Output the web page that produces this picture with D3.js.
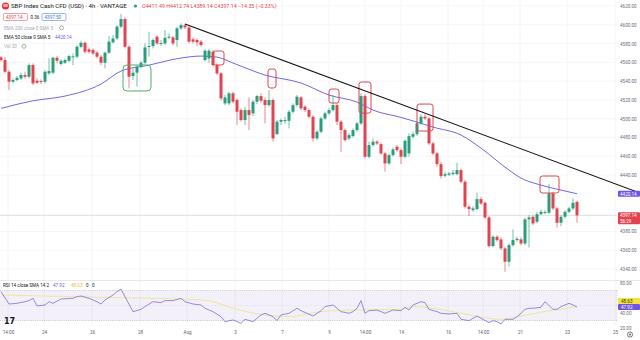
<!DOCTYPE html>
<html><head><meta charset="utf-8">
<script src="https://cdn.jsdelivr.net/npm/d3@7"></script>
<style>body{margin:0;background:#fff}svg{display:block;font-family:Roboto,"Noto Sans",sans-serif}</style>
</head><body><svg id="c" width="640" height="340"></svg>
<script>
// ---- data (4h candles, index 0..144) ----
const opens=[4565.3,4562.5,4550.0,4539.4,4541.2,4542.9,4546.5,4544.7,4557.1,4540.4,4540.1,4539.4,4548.3,4549.0,4564.9,4558.2,4559.6,4561.7,4566.0,4566.0,4576.6,4580.9,4573.8,4573.1,4570.3,4566.0,4559.6,4570.3,4581.3,4585.5,4598.0,4606.1,4576.6,4545.4,4549.0,4555.4,4559.6,4576.6,4577.4,4587.3,4580.2,4580.2,4586.6,4586.6,4583.8,4596.2,4599.4,4597.2,4584.5,4583.8,4582.0,4562.5,4564.2,4571.3,4557.1,4548.3,4516.3,4516.3,4527.0,4519.9,4509.2,4498.6,4509.2,4505.7,4518.1,4524.1,4519.9,4514.5,4519.9,4483.6,4496.8,4497.8,4497.8,4507.4,4514.5,4522.7,4512.8,4509.2,4502.1,4479.0,4486.1,4500.3,4505.7,4509.2,4514.5,4496.8,4487.9,4479.0,4481.5,4487.9,4495.0,4524.1,4459.5,4471.9,4475.5,4473.0,4463.1,4452.4,4461.3,4470.2,4466.6,4459.5,4463.1,4480.8,4483.6,4495.0,4502.1,4500.3,4473.7,4463.1,4451.7,4439.3,4440.3,4441.0,4441.0,4445.3,4432.9,4406.3,4402.7,4403.8,4414.4,4410.5,4394.9,4364.4,4374.3,4371.5,4361.9,4347.7,4365.4,4370.8,4371.5,4367.2,4392.8,4395.6,4390.3,4398.4,4399.9,4399.9,4420.5,4404.5,4389.2,4395.6,4400.9,4404.5,4411.49];
const highs=[4566.7,4566.0,4551.8,4542.9,4545.4,4549.0,4550.0,4558.9,4558.9,4542.9,4541.9,4551.8,4564.2,4566.0,4566.7,4563.2,4564.2,4568.1,4569.5,4578.4,4583.0,4582.0,4575.9,4574.9,4572.4,4567.8,4571.3,4588.0,4589.1,4599.7,4611.4,4607.9,4578.4,4553.6,4557.1,4561.7,4580.2,4592.6,4585.5,4589.1,4583.8,4594.4,4590.9,4588.0,4598.0,4601.5,4600.8,4598.7,4586.6,4585.5,4583.8,4573.8,4574.5,4573.1,4558.9,4550.0,4525.2,4528.7,4528.7,4521.6,4511.0,4512.8,4522.7,4519.9,4525.2,4527.0,4522.7,4530.5,4521.6,4498.6,4500.3,4502.1,4509.2,4516.3,4525.2,4524.1,4514.5,4511.0,4503.9,4487.9,4502.1,4507.4,4511.0,4525.2,4516.3,4498.6,4489.7,4484.4,4489.7,4496.8,4527.0,4526.2,4475.5,4479.0,4477.3,4474.4,4464.8,4463.1,4469.4,4471.9,4468.4,4478.0,4484.4,4486.1,4496.8,4504.9,4504.9,4502.1,4475.5,4464.8,4454.2,4443.5,4443.5,4445.3,4453.1,4447.1,4434.7,4408.0,4407.0,4421.2,4416.9,4411.6,4396.3,4376.1,4376.1,4373.6,4363.7,4367.2,4382.1,4374.3,4373.6,4394.9,4397.4,4397.4,4400.9,4403.4,4402.7,4430.4,4422.2,4406.3,4397.4,4402.7,4406.3,4415.1,4412.74];
const lows=[4560.7,4548.3,4530.5,4537.6,4540.1,4541.2,4542.9,4542.9,4535.8,4536.9,4536.9,4537.6,4546.5,4547.5,4558.9,4556.8,4558.2,4560.3,4557.1,4564.2,4574.9,4569.5,4569.5,4567.8,4564.2,4557.1,4553.6,4568.8,4580.2,4583.8,4596.2,4574.9,4532.3,4541.2,4534.1,4553.6,4558.2,4566.0,4574.9,4578.4,4577.4,4578.4,4584.5,4578.4,4576.6,4594.4,4595.1,4580.2,4580.2,4577.4,4576.6,4560.7,4559.6,4555.4,4546.5,4519.1,4514.5,4514.5,4516.3,4493.2,4496.8,4493.2,4487.9,4502.8,4515.6,4517.0,4495.0,4512.8,4475.5,4482.6,4493.2,4495.0,4489.7,4505.7,4512.8,4509.2,4507.4,4500.3,4475.5,4477.3,4484.4,4498.6,4503.9,4507.4,4493.2,4464.8,4475.5,4477.3,4480.1,4486.1,4493.2,4457.7,4457.7,4470.2,4471.9,4461.3,4443.5,4450.6,4459.5,4464.8,4451.7,4457.7,4459.5,4479.0,4481.5,4493.2,4498.6,4471.9,4461.3,4448.9,4436.4,4437.5,4438.9,4439.6,4439.6,4431.1,4404.5,4396.3,4400.9,4402.7,4408.0,4392.8,4362.9,4362.9,4369.0,4360.1,4337.0,4342.4,4363.7,4369.0,4365.4,4365.4,4362.9,4386.7,4388.5,4397.4,4398.4,4398.4,4402.7,4384.2,4385.7,4393.8,4399.2,4402.7,4389.14];
const closes=[4562.5,4550.0,4539.4,4541.2,4543.6,4546.5,4544.7,4557.1,4537.6,4538.3,4539.0,4550.0,4550.7,4564.9,4561.7,4561.7,4562.5,4566.7,4566.4,4576.6,4580.9,4571.3,4571.3,4569.5,4566.0,4559.6,4570.3,4582.0,4585.5,4598.0,4606.1,4576.6,4544.7,4549.0,4555.4,4559.6,4575.9,4577.4,4583.8,4580.2,4580.6,4586.2,4587.3,4580.2,4596.2,4599.7,4597.2,4582.0,4582.0,4581.3,4578.4,4572.4,4572.4,4557.1,4548.3,4521.6,4522.7,4527.0,4518.1,4507.4,4498.6,4509.2,4503.9,4518.1,4524.1,4519.1,4514.5,4519.9,4479.0,4496.8,4498.6,4498.6,4507.4,4514.5,4523.4,4511.0,4509.2,4502.1,4479.0,4486.1,4500.3,4505.7,4509.2,4514.5,4496.8,4487.9,4477.3,4482.6,4487.9,4495.0,4524.1,4459.5,4471.9,4475.5,4473.7,4463.1,4452.4,4461.3,4467.3,4466.6,4459.5,4476.5,4481.5,4483.6,4495.0,4502.1,4500.3,4473.7,4463.1,4451.7,4438.9,4441.0,4441.7,4442.5,4445.3,4432.9,4406.3,4403.8,4404.5,4414.4,4409.8,4394.9,4364.4,4374.3,4370.8,4361.9,4347.7,4365.4,4370.8,4372.2,4367.2,4392.8,4394.9,4388.5,4398.4,4400.9,4400.6,4420.5,4404.5,4389.2,4395.6,4400.9,4404.5,4410.5,4397.14];

// EMA 50 read at candle indices
const emaIdx=[0,8,16,25,30,37,45,50,54,58,66,75,82,89,93,100,104,108,115,120,126,130,135,140,144];
const emaVal=[4511.0,4519.1,4524.1,4536.9,4550.7,4557.1,4564.6,4566.7,4565.6,4559.3,4546.5,4538.0,4525.2,4517.7,4509.2,4501.4,4496.4,4491.1,4482.6,4468.7,4448.5,4436.8,4429.3,4424.0,4420.14];

// RSI 14 and its SMA
const rsiIdx=[0,2,4,6,7,8,9,11,12,13,15,18,19,20,22,24,25,26,28,29,30,33,35,36,38,40,41,43,45,46,48,50,51,53,55,56,58,60,61,63,65,66,68,69,70,72,74,75,78,80,81,83,84,85,87,88,89,90,91,92,94,95,96,97,98,100,101,102,103,105,106,107,109,110,112,114,115,117,119,120,122,123,124,125,126,128,129,130,131,132,133,135,136,138,139,140,142,143,144];
const rsiVal=[68.5,52,52.9,55.1,56.5,59.6,49.4,50.7,55.1,52.9,58.7,59.6,61.8,62.7,59.6,55.1,52,57.4,64,68.5,71.6,41.8,44.9,48.5,55.1,53.8,56.5,56.5,59.6,55.1,52,50.7,46.3,41.8,35.2,28.5,30.7,26.3,31.6,28.5,37.4,39.6,35.2,29.8,37.4,39.6,46.3,43.1,36,43,48.5,50.7,46.3,41.8,39.6,41.8,46.3,56.5,39.6,43.1,44,41.8,39.6,41.8,44,43.1,47.6,44,50.7,55.1,53.8,44.9,41.8,39.6,38.7,39.6,31.6,29.8,36,32.9,27.2,29.8,28.5,25.4,31.6,31.6,35.2,39.6,44.9,46.3,46.3,47.6,55.1,44.9,44.9,48.5,52.9,50.7,47.92];
const rsiMaIdx=[0,25,50,53,58,66,72,80,88,100,103,108,115,125,130,136,144];
const rsiMaVal=[64,60.9,57.4,55.1,46.3,37.4,35.2,41.8,44,44.9,48.5,46.3,39.6,31.6,36,41.8,48.63];

// axis ticks
const tickIdx=[1.75,10.75,22.75,34.75,46.5,58.5,70.25,82,91,100,111.75,120.5,129.75,141.5,153.5];
const tickLabels=["14:00","24","26","28","Aug","3","7","9","14:00","14","16","14:00","21","23","25"];
const priceTicks=[4340,4360,4380,4440,4460,4480,4500,4520,4540,4560,4580,4600,4620];
const rsiTicks=[80,40,20];

// drawings: trend line and highlight boxes (candle index / price)
const trendIdx=[46,159.75], trendVal=[4600.8,4420.9];
const boxStart=[30.5,53,66.75,82,89.5,104,134.75];
const boxEnd=[37.5,55.75,68.75,84.5,92.5,108,139.5];
const boxHigh=[4557.2,4572.1,4552.9,4531.6,4539.1,4515.6,4439.0];
const boxLow=[4529.5,4557.2,4532.7,4516.7,4506.0,4486.9,4420.9];
const boxKind=["g","r","r","r","r","r","r"];

// ---- drawing ----
const svg=d3.select("#c");
const UP="#2a9d7c", DN="#e2444f", EMA="#7567e4";
const x=d3.scaleLinear().domain([0,144]).range([1,577]);
const y=d3.scaleLinear().domain([4340,4620]).range([269,6]);
const yr=d3.scaleLinear().domain([20,80]).range([328,283]);
const plotR=617;

// faint grid
const g0=svg.append("g");
g0.selectAll("line.v").data(tickIdx).join("line").attr("x1",d=>x(d)).attr("x2",d=>x(d)).attr("y1",0).attr("y2",326).attr("stroke","#f4f4f7").attr("stroke-width",1);
g0.selectAll("line.h").data(priceTicks).join("line").attr("x1",0).attr("x2",plotR).attr("y1",d=>y(d)).attr("y2",d=>y(d)).attr("stroke","#f6f6f8");

// pane separator
svg.append("line").attr("x1",0).attr("x2",640).attr("y1",280.5).attr("y2",280.5).attr("stroke","#e6e8ee");

// last price line
svg.append("line").attr("x1",0).attr("x2",plotR).attr("y1",y(closes[144])).attr("y2",y(closes[144])).attr("stroke","#dcdde2").attr("stroke-width",1);

// EMA line
svg.append("path").datum(emaIdx.map((d,i)=>[d,emaVal[i]]))
  .attr("d",d3.line().x(d=>x(d[0])).y(d=>y(d[1])).curve(d3.curveMonotoneX))
  .attr("fill","none").attr("stroke",EMA).attr("stroke-width",1);

// candles
const cg=svg.append("g");
const idx=d3.range(opens.length);
cg.selectAll("line").data(idx).join("line")
  .attr("x1",i=>x(i)).attr("x2",i=>x(i)).attr("y1",i=>y(highs[i])).attr("y2",i=>y(lows[i]))
  .attr("stroke",i=>closes[i]>=opens[i]?UP:DN).attr("stroke-width",0.8).attr("opacity",0.8);
cg.selectAll("rect").data(idx).join("rect")
  .attr("x",i=>x(i)-1.5).attr("width",3)
  .attr("y",i=>y(Math.max(opens[i],closes[i])))
  .attr("height",i=>Math.max(1,Math.abs(y(opens[i])-y(closes[i]))))
  .attr("fill",i=>closes[i]>=opens[i]?UP:DN);

// boxes
svg.append("g").selectAll("rect").data(boxStart.map((d,i)=>i)).join("rect")
  .attr("x",i=>x(boxStart[i])).attr("y",i=>y(boxHigh[i]))
  .attr("width",i=>x(boxEnd[i])-x(boxStart[i])).attr("height",i=>y(boxLow[i])-y(boxHigh[i]))
  .attr("rx",i=>boxKind[i]==="g"?4:2.5)
  .attr("fill","none").attr("stroke",i=>boxKind[i]==="g"?"#4fb06d":"#d8454f").attr("stroke-width",1);

// trend line
svg.append("line").attr("x1",x(trendIdx[0])).attr("y1",y(trendVal[0])).attr("x2",x(trendIdx[1])).attr("y2",y(trendVal[1]))
  .attr("stroke","#111").attr("stroke-width",1.1);

// price axis
const ya=svg.append("g").attr("transform",`translate(${plotR+3},0)`)
  .call(d3.axisRight(y).tickValues(priceTicks).tickFormat(d3.format(".2f")).tickSize(0).tickPadding(0));
ya.select(".domain").remove();
ya.selectAll("text").attr("font-size",4.6).attr("fill","#6a6d78").attr("font-family","Roboto,sans-serif");

// badges on price axis
svg.append("rect").attr("x",618).attr("y",y(emaVal[emaVal.length-1])-3).attr("width",22).attr("height",6).attr("rx",1).attr("fill","#6f55e4");
svg.append("text").attr("x",620).attr("y",y(emaVal[emaVal.length-1])+1.8).attr("font-size",4.6).attr("fill","#fff").text("4420.14");
svg.append("rect").attr("x",618).attr("y",y(closes[144])-3).attr("width",22).attr("height",12).attr("rx",1).attr("fill","#e2444f");
svg.append("text").attr("x",620).attr("y",y(closes[144])+1.8).attr("font-size",4.6).attr("fill","#fff").text("4397.14");
svg.append("text").attr("x",620).attr("y",y(closes[144])+7.4).attr("font-size",4.6).attr("fill","#fff").text("56:29");

// RSI pane
svg.append("rect").attr("x",0).attr("y",yr(70)).attr("width",plotR).attr("height",yr(30)-yr(70)).attr("fill","rgba(126,87,194,0.09)");
[70,30].forEach(v=>svg.append("line").attr("x1",0).attr("x2",plotR).attr("y1",yr(v)).attr("y2",yr(v)).attr("stroke","#a9abb4").attr("stroke-width",0.6).attr("stroke-dasharray","1,1.2"));
svg.append("line").attr("x1",0).attr("x2",plotR).attr("y1",yr(50)).attr("y2",yr(50)).attr("stroke","#cfcfd8").attr("stroke-width",0.5).attr("stroke-dasharray","1,1.5");
svg.append("line").attr("x1",plotR).attr("x2",plotR).attr("y1",yr(70)).attr("y2",yr(30)).attr("stroke","#b8bac2").attr("stroke-width",0.5).attr("stroke-dasharray","1,1.2");
svg.append("path").datum(rsiMaIdx.map((d,i)=>[d,rsiMaVal[i]]))
  .attr("d",d3.line().x(d=>x(d[0])).y(d=>yr(d[1])).curve(d3.curveMonotoneX))
  .attr("fill","none").attr("stroke","#efe79a").attr("stroke-width",1);
svg.append("path").datum(rsiIdx.map((d,i)=>[d,rsiVal[i]]))
  .attr("d",d3.line().x(d=>x(d[0])).y(d=>yr(d[1])))
  .attr("fill","none").attr("stroke","#7e6fd6").attr("stroke-width",0.8);
const ra=svg.append("g").attr("transform",`translate(${plotR+3},0)`)
  .call(d3.axisRight(yr).tickValues(rsiTicks).tickFormat(d3.format(".2f")).tickSize(0).tickPadding(0));
ra.select(".domain").remove();
ra.selectAll("text").attr("font-size",4.6).attr("fill","#6a6d78").attr("font-family","Roboto,sans-serif");
svg.append("rect").attr("x",618).attr("y",298).attr("width",22).attr("height",6).attr("rx",1).attr("fill","#f3e33c");
svg.append("text").attr("x",621).attr("y",302.8).attr("font-size",4.6).attr("fill","#333").text("48.63");
svg.append("rect").attr("x",618).attr("y",304).attr("width",22).attr("height",6).attr("rx",1).attr("fill","#6f55e4");
svg.append("text").attr("x",621).attr("y",308.8).attr("font-size",4.6).attr("fill","#fff").text("47.92");

// x axis
const xa=svg.append("g").attr("transform","translate(0,331)")
  .call(d3.axisBottom(x).tickValues(tickIdx).tickFormat((d,i)=>tickLabels[i]).tickSize(0).tickPadding(0));
xa.select(".domain").remove();
xa.selectAll("text").attr("font-size",4.6).attr("fill","#5d606b").attr("font-family","Roboto,sans-serif");

// settings icon
svg.append("circle").attr("cx",630).attr("cy",334.5).attr("r",2.6).attr("fill","none").attr("stroke","#555").attr("stroke-width",0.8);
svg.append("circle").attr("cx",630).attr("cy",334.5).attr("r",0.9).attr("fill","#555");

// TV logo
svg.append("text").attr("x",4).attr("y",324).attr("font-size",8).attr("font-weight",900).attr("fill","#131722").attr("font-family","DejaVu Sans").text("17");

// header legend
svg.append("circle").attr("cx",5.5).attr("cy",6).attr("r",3.6).attr("fill","#e0323f");
svg.append("text").attr("x",5.5).attr("y",7.2).attr("text-anchor","middle").attr("font-size",2.6).attr("fill","#fff").attr("font-weight",700).text("500");
svg.append("text").attr("x",11).attr("y",8.3).attr("font-size",6.1).attr("fill","#131722").text("SBP Index Cash CFD (USD) · 4h · VANTAGE");
svg.append("circle").attr("cx",135.5).attr("cy",6).attr("r",1.6).attr("fill","#2a9d7c");
svg.append("text").attr("x",142).attr("y",8).attr("font-size",5.3).attr("fill","#e2444f").text("O4411.49 H4412.74 L4389.14 C4397.14 −14.35 (−0.33%)");
svg.append("rect").attr("x",3.5).attr("y",13.5).attr("width",24).attr("height",7).attr("rx",1).attr("fill","#fff").attr("stroke","#e2444f").attr("stroke-width",0.5);
svg.append("text").attr("x",6).attr("y",18.7).attr("font-size",4.6).attr("fill","#e2444f").text("4397.14");
svg.append("text").attr("x",30.5).attr("y",18.7).attr("font-size",4.6).attr("fill","#131722").text("0.36");
svg.append("rect").attr("x",42).attr("y",13.5).attr("width",24).attr("height",7).attr("rx",1).attr("fill","#fff").attr("stroke","#3f72e0").attr("stroke-width",0.5);
svg.append("text").attr("x",44.5).attr("y",18.7).attr("font-size",4.6).attr("fill","#3f72e0").text("4397.50");
svg.append("text").attr("x",4).attr("y",29.5).attr("font-size",4.6).attr("fill","#a7a9b2").text("EMA 200 close 0 SMA 5");
svg.append("circle").attr("cx",61.5).attr("cy",27.8).attr("r",2).attr("fill","none").attr("stroke","#777").attr("stroke-width",0.6);
svg.append("text").attr("x",4).attr("y",38.8).attr("font-size",4.6).attr("fill","#131722").text("EMA 50 close 0 SMA 5");
svg.append("text").attr("x",55).attr("y",38.8).attr("font-size",4.6).attr("fill","#6f55e4").text("4420.14");
svg.append("text").attr("x",4).attr("y",48).attr("font-size",4.6).attr("fill","#a7a9b2").text("Vol 20");
svg.append("circle").attr("cx",24).attr("cy",46.3).attr("r",2).attr("fill","none").attr("stroke","#777").attr("stroke-width",0.6);
// RSI legend
svg.append("text").attr("x",3).attr("y",287.3).attr("font-size",4.6).attr("fill","#131722").text("RSI 14 close SMA 14 2");
svg.append("text").attr("x",53).attr("y",287.3).attr("font-size",4.6).attr("fill","#6f55e4").text("47.92");
svg.append("text").attr("x",71).attr("y",287.3).attr("font-size",4.6).attr("fill","#d9c93a").text("48.63");
svg.append("text").attr("x",86).attr("y",287.3).attr("font-size",4.6).attr("fill","#131722").text("0");
svg.append("text").attr("x",92).attr("y",287.3).attr("font-size",4.6).attr("fill","#131722").text("0");
</script></body></html>
